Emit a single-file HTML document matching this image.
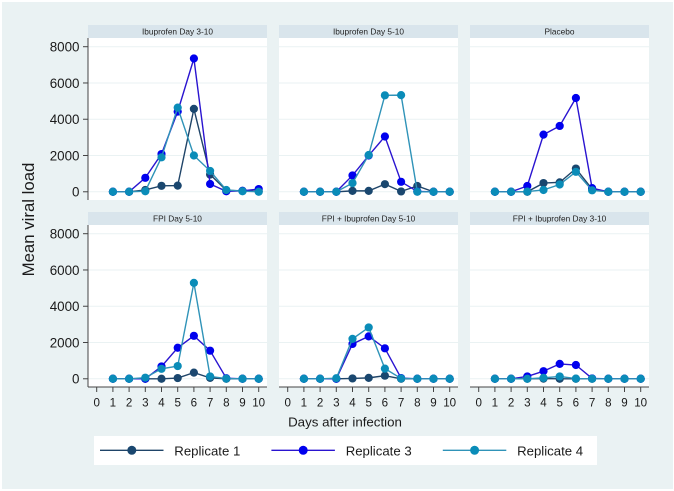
<!DOCTYPE html>
<html>
<head>
<meta charset="utf-8">
<style>
html,body{margin:0;padding:0;background:#fff;}
svg{display:block;font-family:"Liberation Sans",sans-serif;filter:blur(0.35px);}
</style>
</head>
<body>
<svg id="chart" xmlns="http://www.w3.org/2000/svg" width="674" height="491" viewBox="0 0 674 491"></svg>
<script>
const days = [1,2,3,4,5,6,7,8,9,10];
const xTicks = [0,1,2,3,4,5,6,7,8,9,10];
const yTicks = [0,2000,4000,6000,8000];
const panelTitles = ["Ibuprofen Day 3-10","Ibuprofen Day 5-10","Placebo","FPI Day 5-10","FPI + Ibuprofen Day 5-10","FPI + Ibuprofen Day 3-10"];
const seriesNames = ["Replicate 1","Replicate 3","Replicate 4"];
const replicate1 = [
  [0,0,100,330,340,4570,950,80,50,20],
  [0,0,0,50,50,420,20,320,0,0],
  [0,0,0,480,520,1280,150,0,0,0],
  [0,0,0,0,40,340,50,0,0,0],
  [0,0,0,20,50,170,0,0,0,0],
  [0,0,0,10,0,0,0,0,0,0]
];
const replicate3 = [
  [0,0,770,2080,4420,7350,430,30,50,150],
  [0,0,0,900,2000,3050,550,20,0,0],
  [0,0,320,3150,3630,5170,200,0,0,0],
  [0,0,0,680,1710,2370,1550,30,0,0],
  [0,0,0,1920,2340,1680,40,0,0,0],
  [0,0,130,420,820,760,20,0,0,0]
];
const replicate4 = [
  [0,0,30,1900,4640,2000,1150,100,30,0],
  [0,0,0,480,2030,5320,5330,0,0,0],
  [0,0,10,100,400,1100,80,0,0,0],
  [0,0,60,550,700,5290,130,10,0,0],
  [0,0,30,2200,2830,560,20,0,0,0],
  [0,0,0,50,130,10,0,0,0,0]
];

const NS = "http://www.w3.org/2000/svg";
const svg = document.getElementById("chart");
const lineColors = ["#1f4468","#2a14d0","#2f93b8"];
const markColors = ["#1a476f","#0000ee","#0a8cb8"];
const allSeries = [replicate1, replicate3, replicate4];
const slug = s => s.toLowerCase().replace(/[^a-z0-9]+/g,"-");

function add(parent, tag, attrs, text){
  const e = document.createElementNS(NS, tag);
  for (const k in attrs) e.setAttribute(k, attrs[k]);
  if (text !== undefined) e.textContent = text;
  parent.appendChild(e);
  return e;
}

const bg = add(svg,"rect",{x:2,y:2,width:671,height:487,fill:"#eaf2f3"});



const panelLefts = [88,279,470];
const rowTops = [25,212];
const panelW = 179, stripH = 13, plotH = 162;

function makeX(left){ return v => left + 8.7 + v * 16.2; }
function makeY(top){ return v => top + stripH + 8.7 + (8000 - v) * (36.27 / 2000); }

panelTitles.forEach((title, i) => {
  const col = i % 3, row = Math.floor(i / 3);
  const left = panelLefts[col], top = rowTops[row];
  const x = makeX(left), y = makeY(top);
  const plotBottom = top + stripH + plotH;
  const g = add(svg,"g",{});
  
  

  const strip = add(g,"rect",{x:left,y:top,width:panelW,height:stripH,fill:"#d9e5ec"});
  
  
  const stripText = add(g,"text",{x:left+panelW/2,y:top+9.6,"text-anchor":"middle","font-size":"8.3",fill:"#222"},title);
  
  
  const plot = add(g,"rect",{x:left,y:top+stripH,width:panelW,height:plotH,fill:"#fff"});
  
  

  yTicks.forEach(t => {
    const gl = add(g,"line",{x1:left,x2:left+panelW,y1:y(t),y2:y(t),stroke:"#eaf2f3","stroke-width":1});
    
    
  });

  if (col === 0) {
    const ya = add(g,"line",{x1:left,x2:left,y1:top+stripH,y2:plotBottom,stroke:"#444","stroke-width":1});
    
    
    yTicks.forEach(t => {
      const tk = add(g,"line",{x1:left-5,x2:left,y1:y(t),y2:y(t),stroke:"#444","stroke-width":1});
      
      
      const lb = add(g,"text",{x:left-8.5,y:y(t)+4.8,"text-anchor":"end","font-size":"13.4",fill:"#1a1a1a"},String(t));
      
      
    });
  }
  if (row === 1) {
    const xa = add(g,"line",{x1:left,x2:left+panelW,y1:plotBottom,y2:plotBottom,stroke:"#444","stroke-width":1});
    
    
    xTicks.forEach(t => {
      const tk = add(g,"line",{x1:x(t),x2:x(t),y1:plotBottom,y2:plotBottom+5,stroke:"#444","stroke-width":1});
      
      
      const lb = add(g,"text",{x:x(t),y:plotBottom+19.5,"text-anchor":"middle","font-size":"11.6",fill:"#1a1a1a"},String(t));
      
      
    });
  }

  allSeries.forEach((series, s) => {
    const vals = series[i];
    const sg = add(g,"g",{});
    
    
    const pts = vals.map((v, k) => x(days[k]) + "," + y(v)).join(" ");
    const pl = add(sg,"polyline",{points:pts,fill:"none",stroke:lineColors[s],"stroke-width":1.4});
    
    
    vals.forEach((v, k) => {
      const c = add(sg,"circle",{cx:x(days[k]),cy:y(v),r:4.1,fill:markColors[s]});
      
      
    });
  });
});

const yTitle = add(svg,"text",{x:0,y:0,transform:"translate(34,219.5) rotate(-90)","text-anchor":"middle","font-size":"16.8",fill:"#1a1a1a"},"Mean viral load");


const xTitle = add(svg,"text",{x:345,y:426.5,"text-anchor":"middle","font-size":"13.3",fill:"#1a1a1a"},"Days after infection");



const legend = add(svg,"g",{});


const legendBox = add(legend,"rect",{x:94,y:436,width:503,height:29,fill:"#fff"});


seriesNames.forEach((name, s) => {
  const lx = 100 + s * 171.4;
  const eg = add(legend,"g",{});
  
  
  const ll = add(eg,"line",{x1:lx,x2:lx+63.5,y1:450.3,y2:450.3,stroke:lineColors[s],"stroke-width":1.3});
  
  
  const lm = add(eg,"circle",{cx:lx+31.8,cy:450.3,r:4.5,fill:markColors[s]});
  
  
  const lt = add(eg,"text",{x:lx+74.3,y:455.3,"font-size":"13.2",fill:"#1a1a1a"},name);
  
  
});
</script>
</body>
</html>
